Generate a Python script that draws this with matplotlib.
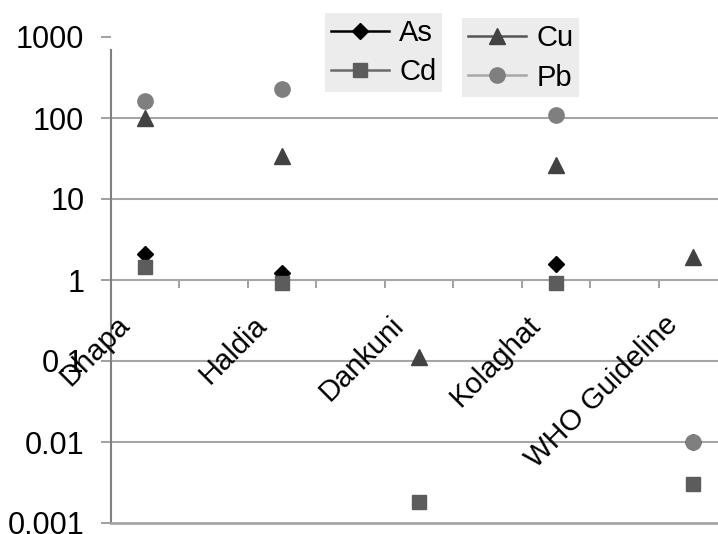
import numpy as np
import matplotlib.pyplot as plt
from matplotlib.lines import Line2D
from matplotlib.ticker import FixedLocator, FuncFormatter

plt.rcParams['font.family'] = ['Liberation Sans', 'DejaVu Sans']

sites = ["Dhapa", "Haldia", "Dankuni", "Kolaghat", "WHO Guideline"]
arsenic = [2.1, 1.22, np.nan, 1.58, 0.01]
cadmium = [1.45, 0.92, 0.0018, 0.92, 0.003]
copper = [100, 34, 0.112, 26, 1.9]
lead = [162, 229, np.nan, 109, 0.01]

# each site sits in every second slot of the category axis
pos = np.arange(len(sites)) * 2

fig = plt.figure(figsize=(7.18, 5.34), dpi=100)
ax = fig.add_axes([110.75 / 718, 11 / 534, 685 / 718, 486 / 534])
ax.set_yscale('log')
ax.set_ylim(0.001, 1000)
ax.set_xlim(-0.5, 9.5)

grid_c = '#a6a6a6'
for v in [0.01, 0.1, 10, 100]:
    ax.axhline(v, color=grid_c, lw=1.5, zorder=0)

ax.plot(pos, arsenic, 'D', color='black', ms=8.5, zorder=3)
ax.plot(pos, cadmium, 's', color='#5c5c5c', ms=10, zorder=3)
ax.plot(pos, copper, '^', color='#424242', ms=11, zorder=3)
ax.plot(pos, lead, 'o', color='#7f7f7f', ms=11, zorder=4)

for s in ['top', 'right']:
    ax.spines[s].set_visible(False)
ax.spines['left'].set_color('#808080')
ax.spines['left'].set_linewidth(1.5)
ax.spines['left'].set_bounds(0.001, 700)
ax.spines['bottom'].set_color('#a6a6a6')
ax.spines['bottom'].set_linewidth(2)
ax.set_xticks([])

ax.yaxis.set_major_locator(FixedLocator([0.001, 0.01, 0.1, 1, 10, 100, 1000]))
ax.yaxis.set_minor_locator(FixedLocator([]))
ax.yaxis.set_major_formatter(FuncFormatter(lambda v, p: f"{v:g}"))
ax.tick_params(axis='y', length=7, width=1.2, color='#909090', pad=12,
               labelsize=22)

# category axis crossing at y = 1
sec = ax.secondary_xaxis(0.49999)
for s in sec.spines.values():
    s.set_color(grid_c)
    s.set_linewidth(1.5)
sec.set_xticks(np.arange(0.5, 9, 1))
sec.set_xticklabels([])
sec.tick_params(length=6, width=1.2, color='#909090', direction='out')

for x, name in zip(pos, sites):
    ax.annotate(name, xy=(x, 1), xytext=(-7, -22), textcoords='offset points',
                rotation=45, ha='right', va='top', fontsize=21)

def handle(marker, color, lc, ms):
    return Line2D([], [], marker=marker, color=lc, markerfacecolor=color,
                  markeredgecolor=color, ms=ms, lw=1.8)

h1 = [handle('D', 'black', 'black', 8.5), handle('s', '#5c5c5c', '#6a6a6a', 10)]
h2 = [handle('^', '#424242', '#555555', 11), handle('o', '#7f7f7f', '#a8a8a8', 11)]

leg_kw = dict(frameon=True, facecolor='#ececec', edgecolor='none', framealpha=1,
              fontsize=21, handlelength=2.0, handletextpad=0.35,
              borderpad=0.2, labelspacing=0.4, borderaxespad=0, fancybox=False)
leg1 = fig.legend(h1, ["As", "Cd"], loc='upper left',
                  bbox_to_anchor=(325 / 718, 1 - 13 / 534), **leg_kw)
leg2 = fig.legend(h2, ["Cu", "Pb"], loc='upper left',
                  bbox_to_anchor=(462 / 718, 1 - 18 / 534), **leg_kw)

fig.savefig("out.png", dpi=100)
